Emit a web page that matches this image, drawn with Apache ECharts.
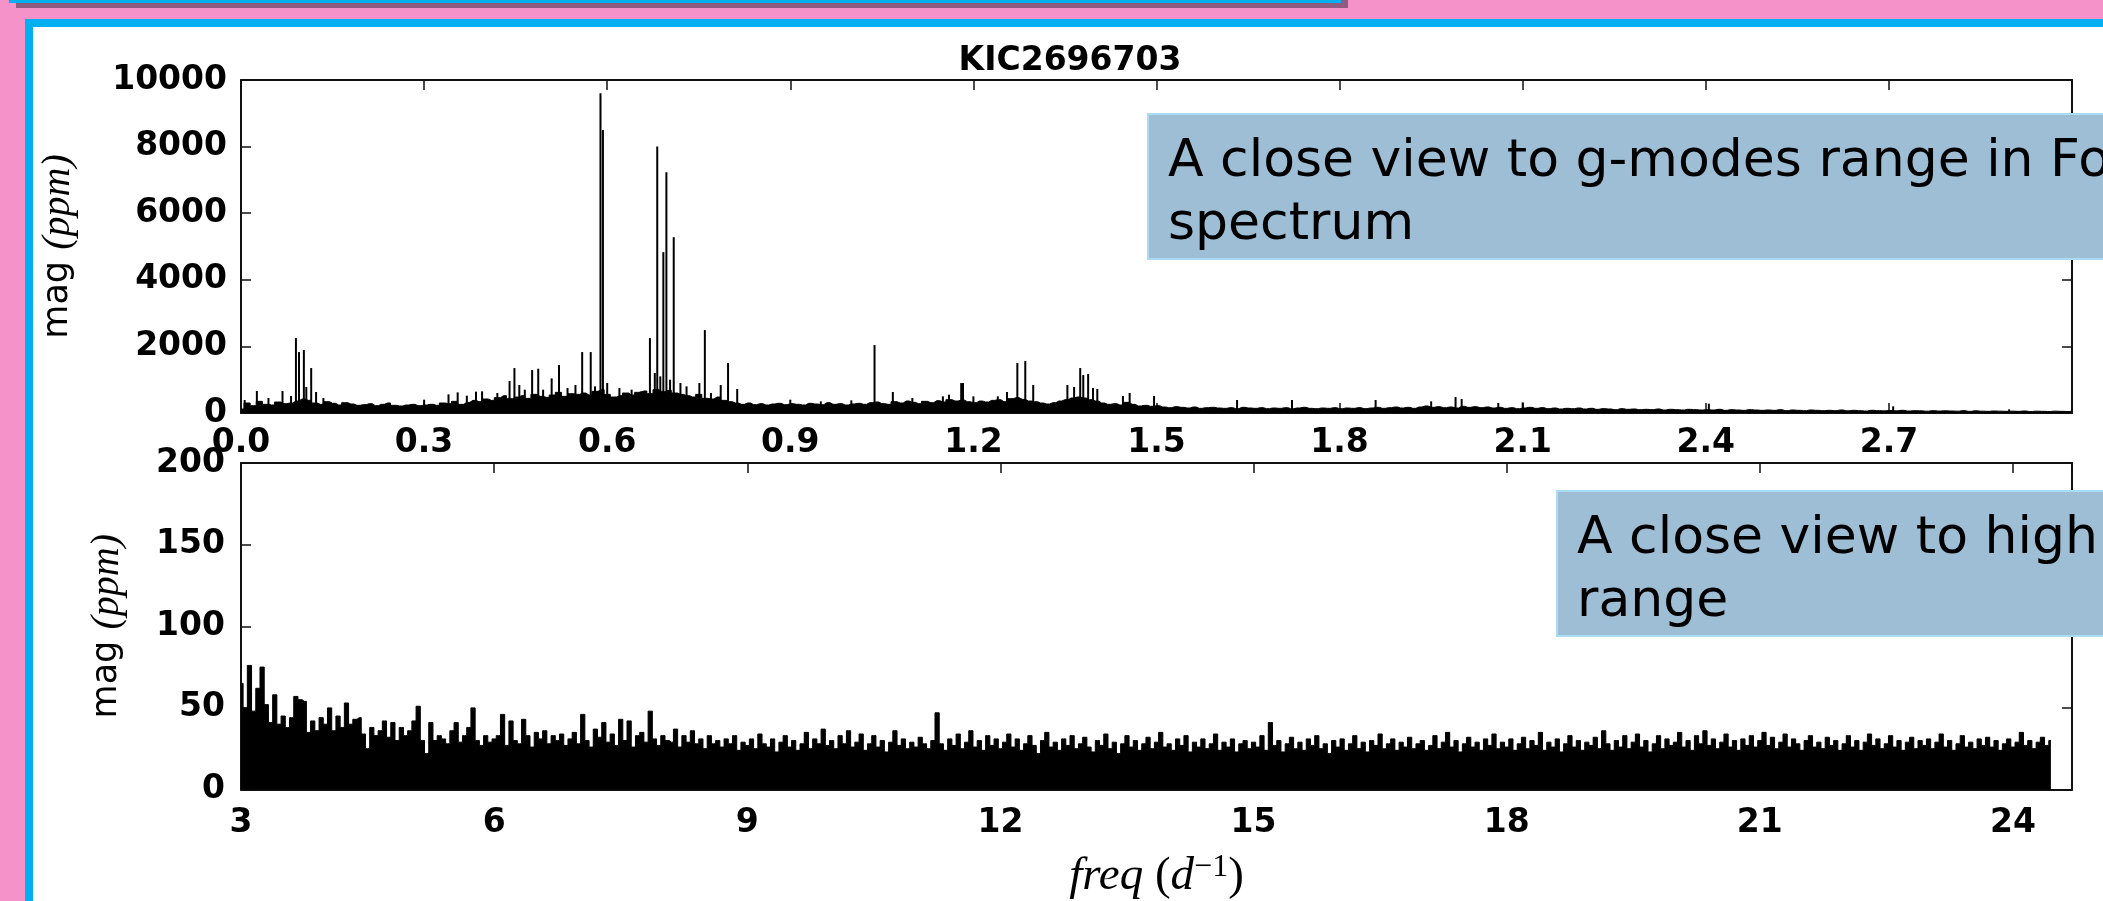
<!DOCTYPE html>
<html>
<head>
<meta charset="utf-8">
<script src="https://cdn.jsdelivr.net/npm/echarts@6/dist/echarts.min.js"></script>
<style>
    html, body { margin:0; padding:0; width:2103px; height:901px; overflow:hidden; background:#f592c9; }
    #shadow { position:absolute; left:16px; top:0; width:1332px; height:8px; background:#8f5b80; }
    #bar { position:absolute; left:9px; top:0; width:1332px; height:3px; background:#00b0f0; }
    #frame { position:absolute; left:25px; top:19px; width:2200px; height:879px; background:#fff;
             border-left:8px solid #00b0f0; border-top:8px solid #00b0f0; border-bottom:8px solid #00b0f0; }
    #main { position:absolute; left:0; top:0; width:2103px; height:901px; }
</style>
</head>
<body>
<div id="shadow"></div>
<div id="bar"></div>
<div id="frame"></div>
<div id="main"></div>

<script>
    // top panel: g-mode range, 0 - 3 d^-1, noise floor sampled every 0.01
    var topFreqStart = 0;
    var topFreqStep = 0.01;
    var topNoise = [
        120,300,220,350,260,240,330,280,300,360,
        420,380,300,260,340,290,240,310,270,230,
        250,280,220,260,300,230,210,240,260,220,
        240,260,230,300,280,350,260,320,380,340,
        420,380,460,520,430,480,520,440,560,500,
        470,540,620,500,580,560,600,540,650,700,
        560,480,520,600,540,620,660,580,700,640,
        680,600,560,520,480,560,440,420,480,380,
        340,300,260,300,250,280,240,270,290,250,
        280,260,240,290,270,250,310,260,280,240,
        270,290,260,310,330,280,260,340,300,360,
        320,280,350,310,370,330,400,360,390,340,
        310,360,330,380,400,340,430,460,410,360,
        340,300,270,310,360,400,450,480,450,400,
        360,300,260,280,240,320,260,210,230,200,
        220,180,160,190,170,150,180,140,160,170,
        150,140,160,130,170,150,140,160,130,150,
        140,160,130,150,170,140,130,150,140,160,
        130,150,140,160,130,150,170,140,160,180,
        150,170,140,180,210,170,190,160,180,150,
        200,170,190,160,180,150,170,140,160,130,
        150,170,140,160,130,150,120,140,130,150,
        120,140,110,130,120,100,130,110,120,100,
        110,100,120,90,110,100,90,110,100,90,
        100,90,110,80,100,90,80,100,90,80,
        90,80,100,70,90,80,70,90,80,70,
        80,70,90,65,80,70,60,80,70,65,
        75,65,80,60,70,65,55,70,60,65,
        60,55,70,50,65,55,50,60,55,50,
        55,50,60,45,55,50,45,55,50,45,
        50
    ];

    // individual peaks in the top panel
    var peakFreqs = [
        0.006,0.026,0.045,0.068,0.082,0.090,0.095,0.103,0.107,0.115,0.123,0.135,
        0.300,0.340,0.355,0.370,0.385,0.395,0.420,
        0.440,0.448,0.456,0.465,0.477,0.487,0.495,0.509,0.521,0.535,0.548,0.559,0.573,0.580,0.589,0.593,0.600,
        0.620,0.640,0.655,0.670,0.678,0.682,0.687,0.692,0.697,0.703,0.709,0.720,0.730,0.751,0.760,0.770,0.786,0.798,0.813,
        0.900,0.950,1.000,1.038,1.068,1.100,1.150,1.160,1.180,1.183,1.200,1.240,1.255,1.272,1.285,1.298,
        1.354,1.365,1.375,1.380,1.388,1.396,1.403,1.445,1.456,1.496,1.632,1.722,1.859,1.950,1.990,2.000,
        2.060,2.100,2.405,2.707,2.897
    ];
    var peakAmps = [
        390,660,450,660,510,2250,1830,1890,780,1350,630,450,
        400,560,620,520,640,650,600,
        960,1350,840,700,1290,1330,700,1040,1440,750,840,1830,1830,800,9600,8500,900,
        750,700,650,2250,1200,8000,1100,4830,7230,1000,5280,900,800,900,2490,600,840,1500,720,
        400,350,380,2040,630,450,500,550,900,900,500,500,630,1500,1560,840,
        840,780,1350,1140,1170,750,720,510,600,510,390,390,390,350,480,420,
        300,320,280,200,110
    ];

    // bottom panel: high frequency range, 3 - 24.45 d^-1, sampled every 0.05
    var lowFreqStart = 3;
    var lowFreqStep = 0.05;
    var lowNoise = [
        65,50,76,48,62,75,52,41,58,40,45,38,44,57,55,54,35,42,36,44,
        40,50,36,45,38,53,40,43,44,34,25,38,33,36,42,32,41,30,38,33,
        36,42,51,30,22,41,30,33,31,28,36,41,29,33,38,50,30,27,33,29,
        31,33,46,27,42,30,28,43,33,26,35,31,36,28,33,30,34,27,31,35,
        28,46,30,26,37,32,41,29,34,27,43,30,42,26,33,35,29,48,31,27,
        33,30,29,37,26,33,29,36,28,31,25,33,28,30,26,31,28,33,24,29,
        27,31,25,34,28,26,31,23,29,33,26,30,24,28,35,25,31,28,37,27,
        30,25,33,28,36,26,29,34,24,28,33,26,30,23,29,36,27,31,25,29,
        26,32,28,25,30,47,28,24,31,27,34,25,29,36,26,30,24,33,27,31,
        25,29,34,26,31,24,28,33,27,22,30,35,26,29,24,31,27,33,25,28,
        32,26,23,30,27,34,25,29,22,28,33,26,30,24,28,32,25,29,35,26,
        28,24,31,27,33,23,29,26,31,25,28,34,24,29,26,31,23,28,30,25,
        29,26,33,24,41,27,30,23,28,32,25,29,24,31,27,33,25,28,22,30,
        26,31,24,28,33,25,29,23,30,27,34,25,28,31,24,29,26,32,25,28,
        30,24,27,33,25,29,35,26,30,23,28,32,26,29,24,31,27,34,25,29,
        26,31,24,28,32,25,30,27,35,24,29,26,31,23,28,33,26,30,24,29,
        27,32,25,36,28,24,30,26,33,25,29,34,26,30,23,28,33,25,31,27,
        29,35,26,30,24,33,28,36,27,31,25,29,34,26,30,24,31,27,33,26,
        30,35,27,32,25,29,34,26,31,28,24,30,33,26,29,25,32,27,30,24,
        28,33,26,30,24,29,34,27,31,25,28,33,26,30,24,29,32,25,30,27,
        31,25,29,34,26,30,24,28,33,26,29,25,31,27,32,26,30,24,28,31,
        26,29,35,27,30,25,29,32,27,30
    ];

    var topYTicks = [0, 10000, 2000];   // min, max, step
    var lowYTicks = [0, 200, 50];
    var topXTicks = [0, 3, 0.3];
    var lowXTicks = [3, 24.7, 3];

    var topNoiseData = topNoise.map(function (a, i) {
        return [+(topFreqStart + i * topFreqStep).toFixed(3), a];
    });
    var peakData = peakFreqs.map(function (f, i) { return [f, peakAmps[i]]; });
    var lowData = lowNoise.map(function (a, i) {
        return [+(lowFreqStart + i * lowFreqStep).toFixed(3), a];
    });

    var chartDom = document.getElementById('main');
    var myChart = echarts.init(chartDom);

    var tickFont = { color: '#000', fontFamily: 'DejaVu Sans', fontWeight: 'bold', fontSize: 33 };
    var axisLine = { show: true, onZero: false, lineStyle: { color: '#111', width: 2 } };
    var axisTick = { show: true, inside: true, length: 10, lineStyle: { color: '#111', width: 1.5 } };
    var yName = {
        rich: {
            s: { fontFamily: 'DejaVu Sans', fontSize: 35, color: '#000' },
            m: { fontFamily: 'Liberation Serif', fontStyle: 'italic', fontSize: 40, color: '#000' }
        }
    };

    function xAx(grid, ticks, pos, labels, margin, fmt) {
        return {
            type: 'value', gridIndex: grid, position: pos,
            min: ticks[0], max: ticks[1], interval: ticks[2],
            axisLine: axisLine, axisTick: axisTick, splitLine: { show: false },
            axisLabel: Object.assign({ show: labels, margin: margin, showMaxLabel: false, formatter: fmt }, tickFont)
        };
    }
    function yAx(grid, ticks, pos, labels, margin) {
        return {
            type: 'value', gridIndex: grid, position: pos,
            min: ticks[0], max: ticks[1], interval: ticks[2],
            axisLine: axisLine, axisTick: axisTick, splitLine: { show: false },
            axisLabel: Object.assign({ show: labels, margin: margin, formatter: function (v) { return String(v); } }, tickFont)
        };
    }

    var xTop = xAx(0, topXTicks, 'bottom', true, 14, function (v) { return v.toFixed(1); });
    var xTopMirror = xAx(0, topXTicks, 'top', false, 0);
    var xLow = xAx(1, lowXTicks, 'bottom', true, 17, function (v) { return Math.round(v) + ''; });
    xLow.name = '{i|freq }{p|(}{i|d}{sup|\u22121}{p|)}';
    xLow.nameLocation = 'middle';
    xLow.nameGap = 62;
    xLow.nameTextStyle = {
        rich: {
            i: { fontFamily: 'Liberation Serif', fontStyle: 'italic', fontSize: 47, color: '#000', lineHeight: 50 },
            p: { fontFamily: 'Liberation Serif', fontSize: 47, color: '#000', lineHeight: 50 },
            sup: { fontFamily: 'Liberation Serif', fontSize: 32, color: '#000', verticalAlign: 'top', lineHeight: 50 }
        }
    };
    var xLowMirror = xAx(1, lowXTicks, 'top', false, 0);

    var yTop = yAx(0, topYTicks, 'left', true, 14);
    yTop.name = '{s|mag }{m|(ppm)}';
    yTop.nameLocation = 'middle';
    yTop.nameGap = 163;
    yTop.nameTextStyle = yName;
    var yTopMirror = yAx(0, topYTicks, 'right', false, 0);
    var yLow = yAx(1, lowYTicks, 'left', true, 16);
    yLow.name = '{s|mag }{m|(ppm)}';
    yLow.nameLocation = 'middle';
    yLow.nameGap = 114;
    yLow.nameTextStyle = yName;
    var yLowMirror = yAx(1, lowYTicks, 'right', false, 0);

    var boxFill = '#9ebed6';
    var boxLine = '#aadcf3';
    var boxFont = '52px "DejaVu Sans"';

    var option = {
        animation: false,
        title: {
            text: 'KIC2696703',
            left: 1070, top: 45, textAlign: 'center', padding: 0,
            textStyle: { fontFamily: 'DejaVu Sans', fontWeight: 'bold', fontSize: 33, color: '#000' }
        },
        grid: [
            { left: 241, top: 80, width: 1831, height: 333 },
            { left: 241, top: 463, width: 1831, height: 331 }
        ],
        xAxis: [xTop, xTopMirror, xLow, xLowMirror],
        yAxis: [yTop, yTopMirror, yLow, yLowMirror],
        series: [
            {
                type: 'line', xAxisIndex: 0, yAxisIndex: 0, data: topNoiseData,
                symbol: 'none', step: 'middle', lineStyle: { color: '#000', width: 1 },
                areaStyle: { color: '#000', opacity: 1 }
            },
            {
                type: 'bar', xAxisIndex: 0, yAxisIndex: 0, data: peakData,
                barWidth: 2, itemStyle: { color: '#000' }
            },
            {
                type: 'line', xAxisIndex: 2, yAxisIndex: 2, data: lowData,
                symbol: 'none', step: 'middle', lineStyle: { color: '#000', width: 1 },
                areaStyle: { color: '#000', opacity: 1 }
            }
        ],
        graphic: {
            elements: [
                {
                    type: 'rect', left: 1147, top: 113, z: 100,
                    shape: { width: 1100, height: 145 },
                    style: { fill: boxFill, stroke: boxLine, lineWidth: 2 }
                },
                {
                    type: 'text', left: 1168, top: 131, z: 101,
                    style: {
                        text: 'A close view to g-modes range in Fourier\nspectrum',
                        font: boxFont, fill: '#000', lineHeight: 63
                    }
                },
                {
                    type: 'rect', left: 1556, top: 490, z: 100,
                    shape: { width: 700, height: 145 },
                    style: { fill: boxFill, stroke: boxLine, lineWidth: 2 }
                },
                {
                    type: 'text', left: 1577, top: 508, z: 101,
                    style: {
                        text: 'A close view to high frequency\nrange',
                        font: boxFont, fill: '#000', lineHeight: 63
                    }
                }
            ]
        }
    };

    option && myChart.setOption(option);
</script>
</body>
</html>
